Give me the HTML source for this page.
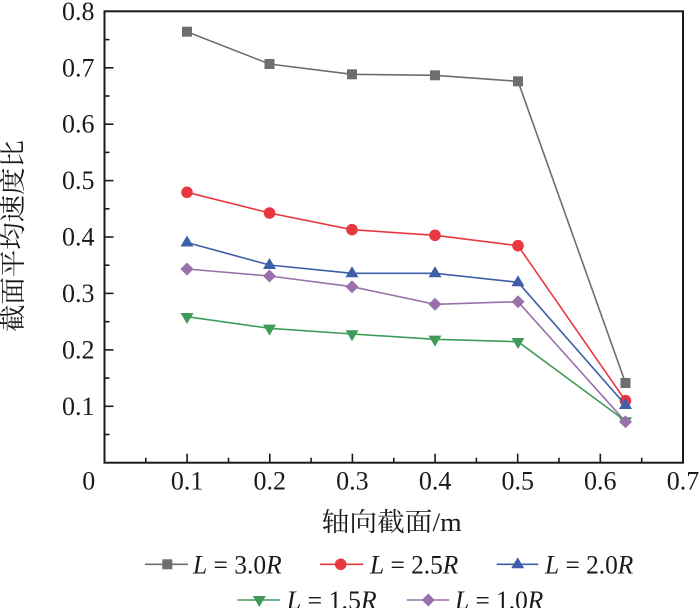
<!DOCTYPE html>
<html><head><meta charset="utf-8"><style>
html,body{margin:0;padding:0;background:#fff;}
svg{display:block;}
.lat{font-family:"Liberation Serif","Times New Roman",serif;}
.cjk{font-family:"Liberation Serif","Noto Serif CJK SC",serif;}
</style></head><body>
<svg width="700" height="608" viewBox="0 0 700 608" xmlns="http://www.w3.org/2000/svg">
<rect x="0" y="0" width="700" height="608" fill="#fff"/>
<rect x="104.5" y="11.3" width="578.5" height="451.4" fill="none" stroke="#1a1a1a" stroke-width="2"/>
<g stroke="#1a1a1a" stroke-width="1.6">
<line x1="104.5" y1="406.3" x2="113.5" y2="406.3"/>
<line x1="104.5" y1="349.9" x2="113.5" y2="349.9"/>
<line x1="104.5" y1="293.4" x2="113.5" y2="293.4"/>
<line x1="104.5" y1="237.0" x2="113.5" y2="237.0"/>
<line x1="104.5" y1="180.6" x2="113.5" y2="180.6"/>
<line x1="104.5" y1="124.2" x2="113.5" y2="124.2"/>
<line x1="104.5" y1="67.8" x2="113.5" y2="67.8"/>
<line x1="104.5" y1="434.5" x2="109.5" y2="434.5"/>
<line x1="104.5" y1="378.1" x2="109.5" y2="378.1"/>
<line x1="104.5" y1="321.7" x2="109.5" y2="321.7"/>
<line x1="104.5" y1="265.2" x2="109.5" y2="265.2"/>
<line x1="104.5" y1="208.8" x2="109.5" y2="208.8"/>
<line x1="104.5" y1="152.4" x2="109.5" y2="152.4"/>
<line x1="104.5" y1="96.0" x2="109.5" y2="96.0"/>
<line x1="104.5" y1="39.6" x2="109.5" y2="39.6"/>
<line x1="187.1" y1="462.7" x2="187.1" y2="453.7"/>
<line x1="269.8" y1="462.7" x2="269.8" y2="453.7"/>
<line x1="352.4" y1="462.7" x2="352.4" y2="453.7"/>
<line x1="435.1" y1="462.7" x2="435.1" y2="453.7"/>
<line x1="517.7" y1="462.7" x2="517.7" y2="453.7"/>
<line x1="600.3" y1="462.7" x2="600.3" y2="453.7"/>
<line x1="145.8" y1="462.7" x2="145.8" y2="457.7"/>
<line x1="228.5" y1="462.7" x2="228.5" y2="457.7"/>
<line x1="311.1" y1="462.7" x2="311.1" y2="457.7"/>
<line x1="393.8" y1="462.7" x2="393.8" y2="457.7"/>
<line x1="476.4" y1="462.7" x2="476.4" y2="457.7"/>
<line x1="559.0" y1="462.7" x2="559.0" y2="457.7"/>
<line x1="641.7" y1="462.7" x2="641.7" y2="457.7"/>
</g>
<g class="lat" font-size="26" fill="#1a1a1a" text-anchor="end">
<text x="94.5" y="19.8">0.8</text>
<text x="94.5" y="76.3">0.7</text>
<text x="94.5" y="132.7">0.6</text>
<text x="94.5" y="189.1">0.5</text>
<text x="94.5" y="245.5">0.4</text>
<text x="94.5" y="301.9">0.3</text>
<text x="94.5" y="358.4">0.2</text>
<text x="94.5" y="414.8">0.1</text>
</g>
<g class="lat" font-size="26" fill="#1a1a1a" text-anchor="middle">
<text x="88.7" y="489.5">0</text>
<text x="187.1" y="489.5">0.1</text>
<text x="269.8" y="489.5">0.2</text>
<text x="352.4" y="489.5">0.3</text>
<text x="435.1" y="489.5">0.4</text>
<text x="517.7" y="489.5">0.5</text>
<text x="600.3" y="489.5">0.6</text>
<text x="683" y="489.5">0.7</text>
</g>
<text class="cjk" x="391.7" y="531" font-size="26" fill="#1a1a1a" text-anchor="middle" textLength="140" lengthAdjust="spacingAndGlyphs">轴向截面/m</text>
<text class="cjk" transform="translate(22,236) rotate(-90)" x="0" y="0" font-size="26" fill="#1a1a1a" text-anchor="middle" textLength="192" lengthAdjust="spacingAndGlyphs">截面平均速度比</text>

<polyline fill="none" stroke="#6e6e6e" stroke-width="1.6" points="187,31.7 269.5,64 352,74.3 435,75.3 518,81.3 625.5,383"/>
<g fill="#6e6e6e">
<rect x="182" y="26.7" width="10" height="10"/>
<rect x="264.5" y="59" width="10" height="10"/>
<rect x="347" y="69.3" width="10" height="10"/>
<rect x="430" y="70.3" width="10" height="10"/>
<rect x="513" y="76.3" width="10" height="10"/>
<rect x="620.5" y="378" width="10" height="10"/>
</g>
<polyline fill="none" stroke="#e8383f" stroke-width="1.6" points="187,192.3 269.5,213 352,229.7 435,235.3 518,245.7 625.5,400.7"/>
<g fill="#e8383f">
<circle cx="187" cy="192.3" r="5.8"/>
<circle cx="269.5" cy="213" r="5.8"/>
<circle cx="352" cy="229.7" r="5.8"/>
<circle cx="435" cy="235.3" r="5.8"/>
<circle cx="518" cy="245.7" r="5.8"/>
<circle cx="625.5" cy="400.7" r="5.8"/>
</g>
<polyline fill="none" stroke="#3d5ea8" stroke-width="1.6" points="187,242.5 269.5,265 352,273.3 435,273.3 518,282.3 625.5,405"/>
<g fill="#3d5ea8">
<polygon points="187,235.5 193.5,246.5 180.5,246.5"/>
<polygon points="269.5,258 276,269 263,269"/>
<polygon points="352,266.3 358.5,277.3 345.5,277.3"/>
<polygon points="435,266.3 441.5,277.3 428.5,277.3"/>
<polygon points="518,275.3 524.5,286.3 511.5,286.3"/>
<polygon points="625.5,398 632,409 619,409"/>
</g>
<polyline fill="none" stroke="#3f9c58" stroke-width="1.6" points="187,316.7 269.5,328.3 352,334 435,339.3 518,341.7 625.5,421"/>
<g fill="#3f9c58">
<polygon points="180.5,313 193.5,313 187,324"/>
<polygon points="263,324.6 276,324.6 269.5,335.6"/>
<polygon points="345.5,330.3 358.5,330.3 352,341.3"/>
<polygon points="428.5,335.6 441.5,335.6 435,346.6"/>
<polygon points="511.5,338 524.5,338 518,349"/>
<polygon points="619,417.3 632,417.3 625.5,428.3"/>
</g>
<polyline fill="none" stroke="#9a70aa" stroke-width="1.6" points="187,269 269.5,276 352,286.7 435,304.3 518,301.7 625.5,421.7"/>
<g fill="#9a70aa">
<polygon points="187,262.5 193.5,269 187,275.5 180.5,269"/>
<polygon points="269.5,269.5 276,276 269.5,282.5 263,276"/>
<polygon points="352,280.2 358.5,286.7 352,293.2 345.5,286.7"/>
<polygon points="435,297.8 441.5,304.3 435,310.8 428.5,304.3"/>
<polygon points="518,295.2 524.5,301.7 518,308.2 511.5,301.7"/>
<polygon points="625.5,415.2 632,421.7 625.5,428.2 619,421.7"/>
</g>

<g stroke-width="1.6">
<line x1="145" y1="564.3" x2="188" y2="564.3" stroke="#6e6e6e"/>
<line x1="320" y1="564.3" x2="363.3" y2="564.3" stroke="#e8383f"/>
<line x1="496.7" y1="564.3" x2="538.3" y2="564.3" stroke="#3d5ea8"/>
<line x1="237.3" y1="600" x2="280" y2="600" stroke="#3f9c58"/>
<line x1="406.7" y1="600" x2="449.3" y2="600" stroke="#9a70aa"/>
</g>
<rect x="162.3" y="559.3" width="10" height="10" fill="#6e6e6e"/>
<circle cx="340.7" cy="564.3" r="5.8" fill="#e8383f"/>
<polygon points="517.7,557.3 524.2,568.3 511.2,568.3" fill="#3d5ea8"/>
<polygon points="252.8,596 265.8,596 259.3,607" fill="#3f9c58"/>
<polygon points="428.3,593.5 434.8,600 428.3,606.5 421.8,600" fill="#9a70aa"/>
<g class="lat" font-size="26" fill="#1a1a1a">
<text x="193" y="573.3" textLength="88.7" lengthAdjust="spacingAndGlyphs"><tspan font-style="italic">L</tspan> = 3.0<tspan font-style="italic">R</tspan></text>
<text x="370" y="573.3" textLength="88.3" lengthAdjust="spacingAndGlyphs"><tspan font-style="italic">L</tspan> = 2.5<tspan font-style="italic">R</tspan></text>
<text x="545" y="573.3" textLength="88.3" lengthAdjust="spacingAndGlyphs"><tspan font-style="italic">L</tspan> = 2.0<tspan font-style="italic">R</tspan></text>
<text x="286.7" y="609" textLength="90" lengthAdjust="spacingAndGlyphs"><tspan font-style="italic">L</tspan> = 1.5<tspan font-style="italic">R</tspan></text>
<text x="455" y="609" textLength="88.3" lengthAdjust="spacingAndGlyphs"><tspan font-style="italic">L</tspan> = 1.0<tspan font-style="italic">R</tspan></text>
</g>
</svg>
</body></html>
